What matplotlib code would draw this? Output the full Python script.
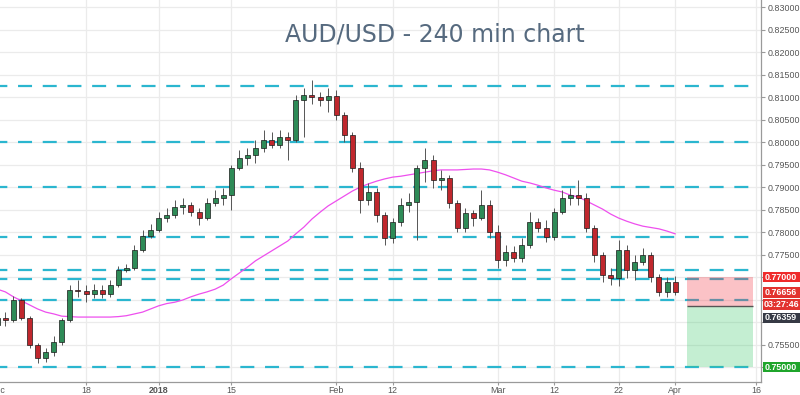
import numpy as np
import matplotlib
matplotlib.use("Agg")
import matplotlib.pyplot as plt
from matplotlib.patches import Rectangle

plt.rcParams['lines.scale_dashes'] = False

# ---------------- data (daily OHLC) ----------------
opens = [0.7593, 0.7609, 0.7604, 0.7649, 0.7609, 0.7549, 0.7520, 0.7533, 0.7556, 0.7604,
         0.7671, 0.7669, 0.7662, 0.7671, 0.7662, 0.7682, 0.7716, 0.7720, 0.7760, 0.7791,
         0.7804, 0.7831, 0.7838, 0.7856, 0.7860, 0.7844, 0.7831, 0.7864, 0.7876, 0.7882,
         0.7942, 0.7964, 0.7971, 0.7987, 0.8004, 0.7993, 0.8011, 0.8004, 0.8093, 0.8104,
         0.8100, 0.8093, 0.8102, 0.8060, 0.8016, 0.7942, 0.7871, 0.7889, 0.7838, 0.7787,
         0.7822, 0.7860, 0.7867, 0.7942, 0.7960, 0.7916, 0.7920, 0.7864, 0.7809, 0.7842,
         0.7831, 0.7860, 0.7800, 0.7738, 0.7756, 0.7742, 0.7771, 0.7822, 0.7809, 0.7789,
         0.7844, 0.7876, 0.7882, 0.7876, 0.7809, 0.7749, 0.7704, 0.7698, 0.7760, 0.7716,
         0.7733, 0.7749, 0.7700, 0.7667, 0.7689]
highs = [0.7620, 0.7622, 0.7658, 0.7653, 0.7613, 0.7553, 0.7542, 0.7569, 0.7609, 0.7682,
         0.7693, 0.7682, 0.7684, 0.7682, 0.7693, 0.7724, 0.7729, 0.7771, 0.7804, 0.7818,
         0.7844, 0.7853, 0.7871, 0.7876, 0.7867, 0.7853, 0.7876, 0.7893, 0.7898, 0.7949,
         0.7982, 0.7987, 0.8004, 0.8027, 0.8022, 0.8027, 0.8022, 0.8104, 0.8120, 0.8138,
         0.8111, 0.8120, 0.8116, 0.8067, 0.8022, 0.7956, 0.7909, 0.7898, 0.7844, 0.7831,
         0.7876, 0.7887, 0.7949, 0.7987, 0.7971, 0.7938, 0.7927, 0.7871, 0.7853, 0.7849,
         0.7893, 0.7871, 0.7816, 0.7771, 0.7769, 0.7787, 0.7844, 0.7831, 0.7827, 0.7853,
         0.7893, 0.7898, 0.7916, 0.7887, 0.7816, 0.7756, 0.7720, 0.7782, 0.7771, 0.7749,
         0.7764, 0.7756, 0.7707, 0.7700, 0.7702]
lows = [0.7582, 0.7591, 0.7600, 0.7604, 0.7542, 0.7509, 0.7511, 0.7524, 0.7549, 0.7600,
        0.7656, 0.7644, 0.7653, 0.7653, 0.7656, 0.7678, 0.7711, 0.7716, 0.7756, 0.7787,
        0.7800, 0.7822, 0.7831, 0.7840, 0.7836, 0.7816, 0.7827, 0.7858, 0.7860, 0.7849,
        0.7938, 0.7949, 0.7953, 0.7978, 0.7987, 0.7987, 0.7960, 0.8000, 0.8011, 0.8084,
        0.8080, 0.8067, 0.8049, 0.8000, 0.7933, 0.7842, 0.7860, 0.7822, 0.7771, 0.7776,
        0.7813, 0.7844, 0.7782, 0.7911, 0.7898, 0.7893, 0.7853, 0.7800, 0.7800, 0.7813,
        0.7827, 0.7787, 0.7720, 0.7724, 0.7733, 0.7733, 0.7764, 0.7800, 0.7778, 0.7782,
        0.7840, 0.7860, 0.7860, 0.7800, 0.7733, 0.7689, 0.7682, 0.7680, 0.7698, 0.7693,
        0.7727, 0.7689, 0.7658, 0.7656, 0.7660]
closes = [0.7609, 0.7604, 0.7649, 0.7609, 0.7549, 0.7520, 0.7533, 0.7556, 0.7604, 0.7671,
          0.7669, 0.7662, 0.7671, 0.7662, 0.7682, 0.7716, 0.7720, 0.7760, 0.7791, 0.7804,
          0.7831, 0.7838, 0.7856, 0.7860, 0.7844, 0.7831, 0.7864, 0.7876, 0.7882, 0.7942,
          0.7964, 0.7971, 0.7987, 0.8004, 0.7993, 0.8011, 0.8004, 0.8093, 0.8104, 0.8100,
          0.8093, 0.8102, 0.8060, 0.8016, 0.7942, 0.7871, 0.7889, 0.7838, 0.7787, 0.7822,
          0.7860, 0.7867, 0.7942, 0.7960, 0.7916, 0.7920, 0.7864, 0.7809, 0.7842, 0.7831,
          0.7860, 0.7800, 0.7738, 0.7756, 0.7742, 0.7771, 0.7822, 0.7809, 0.7789, 0.7844,
          0.7876, 0.7882, 0.7876, 0.7809, 0.7749, 0.7704, 0.7698, 0.7760, 0.7716, 0.7733,
          0.7749, 0.7700, 0.7667, 0.7689, 0.76656]
moving_avg = [0.7673, 0.7667, 0.7656, 0.7647, 0.7638, 0.7629, 0.7622, 0.7618, 0.7613, 0.7612,
              0.7611, 0.7611, 0.7611, 0.7611, 0.7611, 0.7612, 0.7614, 0.7618, 0.7622, 0.7629,
              0.7636, 0.7641, 0.7644, 0.7649, 0.7656, 0.7662, 0.7667, 0.7673, 0.7682, 0.7696,
              0.7709, 0.7722, 0.7736, 0.7747, 0.7758, 0.7769, 0.7780, 0.7796, 0.7811, 0.7829,
              0.7844, 0.7858, 0.7869, 0.7880, 0.7891, 0.7900, 0.7907, 0.7913, 0.7918, 0.7922,
              0.7924, 0.7927, 0.7930, 0.7933, 0.7936, 0.7938, 0.7938, 0.7938, 0.7939, 0.7940,
              0.7940, 0.7938, 0.7933, 0.7927, 0.7920, 0.7913, 0.7909, 0.7904, 0.7898, 0.7893,
              0.7889, 0.7882, 0.7878, 0.7869, 0.7860, 0.7851, 0.7840, 0.7831, 0.7824, 0.7818,
              0.7813, 0.7810, 0.7807, 0.7802, 0.7796]

level_lines = [0.8125, 0.8000, 0.7900, 0.7788, 0.7715, 0.7695, 0.7650, 0.7500]

stop_price = 0.77000
last_price = 0.76656
entry_price = 0.76359
target_price = 0.75000
countdown = "03:27:46"

price_ticks = [0.750, 0.755, 0.760, 0.765, 0.770, 0.775, 0.780, 0.785, 0.790,
               0.795, 0.800, 0.805, 0.810, 0.815, 0.820, 0.825, 0.830]
hidden_price_ticks = [0.750, 0.760, 0.765, 0.770]

# trading-day index ticks (Dec 1 = 0, holidays Dec 25 / Jan 1 skipped)
date_tick_idx = [0, 11, 20, 29, 42, 49, 62, 69, 77, 84, 94]
date_tick_labels = ['Dec', '18', '2018', '15', 'Feb', '12', 'Mar', '12', '22', 'Apr', '16']

title = "AUD/USD - 240 min chart"

# ---------------- figure ----------------
W, H = 800, 395
fig = plt.figure(figsize=(W / 100, H / 100), dpi=100)
ax = fig.add_axes([0, 13 / H, 761 / W, 382 / H])

x_left, x_right = 0.34, 94.64
ax.set_xlim(x_left, x_right)
ax.set_ylim(0.74667, 0.83156)

ax.set_facecolor('white')
for s in ['top', 'left']:
    ax.spines[s].set_visible(False)
for s in ['right', 'bottom']:
    ax.spines[s].set_color('#9a9a9a')
    ax.spines[s].set_linewidth(0.9)

# grid
ax.set_axisbelow(True)
ax.grid(True, color='#ebebeb', linewidth=0.9)

# y axis
ax.yaxis.tick_right()
ax.set_yticks(price_ticks)
ax.set_yticklabels(['' if any(abs(t - h) < 1e-9 for h in hidden_price_ticks) else f"{t:.5f}"
                    for t in price_ticks])
ax.tick_params(axis='y', length=3, color='#9a9a9a', labelsize=6.4, labelcolor='#555555',
               pad=2)
for lab in ax.get_yticklabels():
    lab.set_family('Liberation Sans')

# x axis
ax.set_xticks(date_tick_idx[1:])
ax.set_xticklabels(date_tick_labels[1:])
ax.tick_params(axis='x', length=2.5, color='#9a9a9a', labelsize=6.4, labelcolor='#555555',
               pad=0.3)
for lab in ax.get_xticklabels():
    lab.set_family('Liberation Sans')
    if lab.get_text() == '2018':
        lab.set_fontweight('bold')
ax.text(date_tick_idx[0], -0.022, date_tick_labels[0], transform=ax.get_xaxis_transform(),
        ha='center', va='center', fontsize=6.4, color='#555555', family='Liberation Sans',
        clip_on=False)

# level lines
box_x0, box_x1 = 85.47, 93.65
px_per_pt = 100 / 72
dash = (4.8, (14 / px_per_pt, 10.7 / px_per_pt))
for lv in level_lines:
    ax.hlines(lv, x_left, box_x1, colors='#2bb6cf', linewidth=1.6, linestyles=[dash], zorder=2)

# moving average
idx = np.arange(len(closes))
ax.plot(idx, moving_avg, color='#ee4fee', linewidth=0.9, zorder=3)

# candles
o = np.array(opens); hgh = np.array(highs); lo = np.array(lows); c = np.array(closes)
up = c >= o
ax.vlines(idx, lo, hgh, colors='#555555', linewidth=0.7, zorder=4)
body_bottom = np.minimum(o, c)
body_h = np.maximum(np.abs(c - o), 0.00008)
ax.bar(idx, body_h, bottom=body_bottom, width=0.62,
       color=np.where(up, '#2e8b57', '#c0272d'), edgecolor='#1a1a1a', linewidth=0.5, zorder=5)

# risk / reward boxes
ax.add_patch(Rectangle((box_x0, entry_price), box_x1 - box_x0, stop_price - entry_price,
                       facecolor='#f23645', alpha=0.3, edgecolor='none', zorder=6))
ax.add_patch(Rectangle((box_x0, target_price), box_x1 - box_x0, entry_price - target_price,
                       facecolor='#3cc96b', alpha=0.3, edgecolor='none', zorder=6))
ax.hlines(entry_price, box_x0, box_x1, colors='#555555', linewidth=1.0, zorder=7)

# title
fig.text(435 / W, 1 - 34 / H, title, ha='center', va='center', fontsize=17,
         color='#566a7f', family='DejaVu Sans')

# price labels on the right axis
def y_px(price):
    return ax.transData.transform((0, price))[1]

def axis_label(text, price, color, dy_px=0, h=10.5):
    yc = y_px(price) - dy_px
    fig.add_artist(Rectangle((763 / W, (yc - h / 2) / H), 37 / W, h / H,
                             transform=fig.transFigure, facecolor=color,
                             edgecolor='none', zorder=10))
    fig.text(781 / W, yc / H, text, ha='center', va='center', fontsize=6.4,
             color='white', fontweight='bold', family='Liberation Sans', zorder=11)

axis_label(f"{stop_price:.5f}", stop_price, '#ef2b2b')
axis_label(f"{last_price:.5f}", last_price, '#e2332f')
axis_label(countdown, last_price, '#e2332f', dy_px=12)
axis_label(f"{entry_price:.5f}", entry_price, '#363a45', dy_px=12)
axis_label(f"{target_price:.5f}", target_price, '#1fa52b')

fig.savefig('out.png', dpi=100)
